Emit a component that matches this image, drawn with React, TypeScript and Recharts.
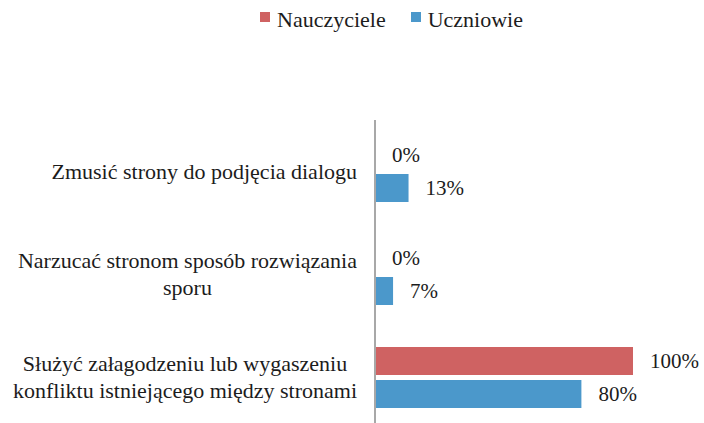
import React from "react";
import { BarChart, Bar, XAxis, YAxis, LabelList } from "recharts";

const categories = [
  "Zmusić strony do podjęcia dialogu",
  "Narzucać stronom sposób rozwiązania\nsporu",
  "Służyć załagodzeniu lub wygaszeniu\nkonfliktu istniejącego między stronami",
];
const nauczyciele = [0, 0, 100];
const uczniowie = [13, 7, 80];
const seriesNames = ["Nauczyciele", "Uczniowie"];
const colors = ["#cf6262", "#4b98cb"];

const data = categories.map((name, i) => ({
  name,
  nauczyciele: nauczyciele[i],
  uczniowie: uczniowie[i],
}));

const FONT = "Liberation Serif, Times New Roman, serif";
const TEXT = "#1c1c1c";

let ctx: CanvasRenderingContext2D | null = null;
function textWidth(s: string, size: number) {
  if (!ctx) ctx = document.createElement("canvas").getContext("2d");
  if (!ctx) return s.length * size * 0.45;
  ctx.font = `${size}px ${FONT}`;
  return ctx.measureText(s).width;
}

function CategoryTick({ x, y, payload }: any) {
  const lines: string[] = String(payload.value).split("\n");
  const size = 22;
  const lineH = 27;
  const w = Math.max(...lines.map((l) => textWidth(l, size)));
  const cx = x - w / 2;
  return (
    <g>
      {lines.map((l, i) => (
        <text
          key={i}
          x={cx}
          y={y + 7 + (i - (lines.length - 1) / 2) * lineH}
          textAnchor="middle"
          fontSize={size}
          style={{ fontFamily: FONT }}
          fill={TEXT}
        >
          {l}
        </text>
      ))}
    </g>
  );
}

function ValueLabel(props: any) {
  const { x, y, width, height, value } = props;
  if (value == null) return null;
  const w = value === 0 ? 0 : Number(width || 0);
  return (
    <text
      x={Number(x) + w + 17}
      y={Number(y) + Number(height) / 2 + 7}
      fontSize={21}
      style={{ fontFamily: FONT }}
      fill={TEXT}
    >
      {`${value}%`}
    </text>
  );
}

function LegendBox() {
  return (
    <div
      style={{
        position: "absolute",
        top: 9,
        left: 260,
        display: "flex",
        fontFamily: FONT,
        fontSize: 22,
        lineHeight: "22px",
        color: TEXT,
        whiteSpace: "nowrap",
      }}
    >
      {seriesNames.map((n, i) => (
        <div key={n} style={{ display: "flex", alignItems: "flex-start", marginRight: 25 }}>
          <span style={{ width: 10, height: 10, background: colors[i], marginTop: 3, marginRight: 7 }} />
          <span>{n}</span>
        </div>
      ))}
    </div>
  );
}

export default function App() {
  return (
    <div style={{ position: "fixed", top: 0, left: 0, width: 704, height: 423, overflow: "hidden", background: "#fff" }}>
      <LegendBox />
      <BarChart
        layout="vertical"
        width={704}
        height={430}
        data={data}
        margin={{ top: 120, right: 71, bottom: 1, left: 0 }}
        barSize={28}
        barGap={5}
      >
        <XAxis type="number" domain={[0, 100]} hide />
        <YAxis
          type="category"
          dataKey="name"
          width={375}
          axisLine={{ stroke: "#a8a8a8", strokeWidth: 2 }}
          tickLine={false}
          tickSize={0}
          tickMargin={18}
          tick={<CategoryTick />}
          interval={0}
        />
        <Bar dataKey="nauczyciele" fill={colors[0]} minPointSize={1} isAnimationActive={false}>
          <LabelList dataKey="nauczyciele" content={<ValueLabel />} />
        </Bar>
        <Bar dataKey="uczniowie" fill={colors[1]} isAnimationActive={false}>
          <LabelList dataKey="uczniowie" content={<ValueLabel />} />
        </Bar>
      </BarChart>
    </div>
  );
}
